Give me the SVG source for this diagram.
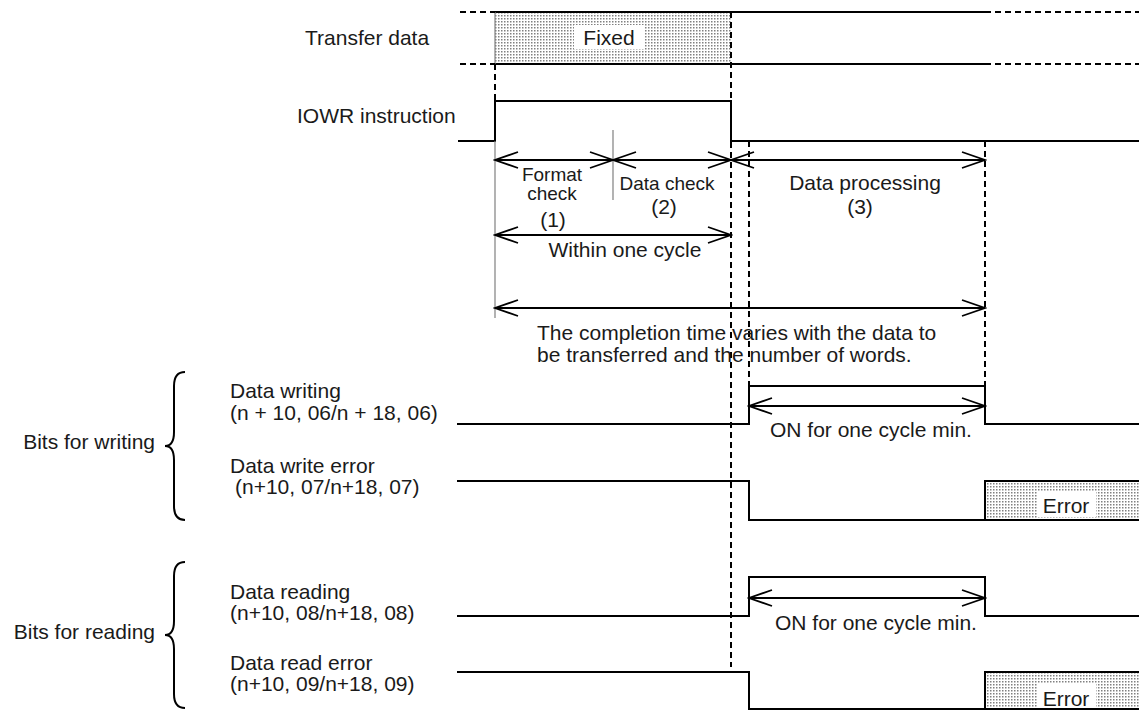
<svg xmlns="http://www.w3.org/2000/svg" width="1139" height="710" viewBox="0 0 1139 710">
<style>
text{font-family:"Liberation Sans",Arial,sans-serif;font-size:21px;fill:#1a1a1a}
.s{font-size:19px}
.m{text-anchor:middle}
.e{text-anchor:end}
.sig{fill:none;stroke:#000;stroke-width:2}
.dash{fill:none;stroke:#000;stroke-width:2;stroke-dasharray:6 4}
.thin{fill:none;stroke:#808080;stroke-width:1.2}
.arr{fill:none;stroke:#000;stroke-width:2;marker-start:url(#ah);marker-end:url(#ah)}
.hatch{fill:url(#dots);stroke:none}
.bg{fill:#fff}
.brace{fill:none;stroke:#000;stroke-width:2}
</style>
<defs>
<pattern id="dots" width="3" height="3" patternUnits="userSpaceOnUse"><rect width="3" height="3" fill="#fff"/><rect width="1.5" height="1.5" fill="#808080"/></pattern>
<marker id="ah" markerUnits="userSpaceOnUse" markerWidth="26" markerHeight="20" refX="24" refY="10" orient="auto-start-reverse" viewBox="0 0 26 20"><path d="M1,2 L24,10 L1,18" fill="none" stroke="#000" stroke-width="1.8"/></marker>
</defs>

<g id="transfer-data">
<rect class="hatch" x="495" y="12" width="236" height="52"/>
<rect class="bg" x="574" y="25" width="70" height="24"/>
<path class="sig" d="M495,12 H985 M495,64 H985"/>
<path class="thin" d="M495,12 V64"/>
<path class="dash" d="M460,12 H495 M460,64 H495 M985,12 H1139 M985,64 H1139"/>
<text x="305" y="45">Transfer data</text>
<text class="m" x="609" y="45">Fixed</text>
</g>

<g id="iowr">
<path class="sig" d="M458,141 H495 V101 H731 V141 H1139"/>
<text x="297" y="123">IOWR instruction</text>
</g>

<g id="data-writing">
<path class="sig" d="M457,424 H749 V386 H985 V424 H1139"/>
<text x="230" y="398">Data writing</text>
<text x="230" y="420">(n + 10, 06/n + 18, 06)</text>
</g>

<g id="data-write-error">
<rect class="hatch" x="985" y="481" width="154" height="39"/>
<rect class="bg" x="1038" y="492" width="58" height="25"/>
<path class="sig" d="M457,481 H749 V520 H1139 M985,520 V481 H1139"/>
<text x="230" y="473">Data write error</text>
<text x="235" y="494">(n+10, 07/n+18, 07)</text>
<text class="m" x="1066" y="513">Error</text>
</g>

<g id="bits-for-writing">
<path class="brace" d="M185,372 Q174,372 174,386 L174,432 Q174,446 165,446 Q174,446 174,460 L174,506 Q174,520 185,520"/>
<text class="e" x="155" y="449">Bits for writing</text>
</g>

<g id="data-reading">
<path class="sig" d="M457,616 H749 V577 H985 V616 H1139"/>
<text x="230" y="599">Data reading</text>
<text x="230" y="620">(n+10, 08/n+18, 08)</text>
</g>

<g id="data-read-error">
<rect class="hatch" x="985" y="672" width="154" height="40"/>
<rect class="bg" x="1038" y="684" width="58" height="26"/>
<path class="sig" d="M457,672 H749 V709 H1139 M985,710 V672 H1139"/>
<text x="230" y="670">Data read error</text>
<text x="230" y="691">(n+10, 09/n+18, 09)</text>
<text class="m" x="1066" y="706">Error</text>
</g>

<g id="bits-for-reading">
<path class="brace" d="M185,562 Q174,562 174,576 L174,621 Q174,635 165,635 Q174,635 174,649 L174,694 Q174,708 185,708"/>
<text class="e" x="155" y="639">Bits for reading</text>
</g>

<g id="guides">
<path class="dash" d="M731,12 V667 M495,64 V101 M749,141 V386 M985,141 V386"/>
<path class="thin" d="M495,141 V318 M613,130 V200"/>
</g>

<g id="connectors">
<path class="arr" d="M495,160 H613"/>
<path class="arr" d="M613,160 H731"/>
<path class="arr" d="M731,160 H985"/>
<path class="arr" d="M495,235 H731"/>
<path class="arr" d="M495,308 H985"/>
<path class="arr" d="M749,406 H985"/>
<path class="arr" d="M749,598 H985"/>
</g>

<g id="labels">
<text class="s m" x="552" y="181">Format</text>
<text class="s m" x="552" y="200">check</text>
<text class="m" x="553" y="227">(1)</text>
<text class="s m" x="667" y="190">Data check</text>
<text class="m" x="664" y="214">(2)</text>
<text class="m" x="865" y="190">Data processing</text>
<text class="m" x="860" y="214">(3)</text>
<text class="m" x="625" y="257">Within one cycle</text>
<text x="537" y="340">The completion time varies with the data to</text>
<text x="537" y="362">be transferred and the number of words.</text>
<text x="770" y="437">ON for one cycle min.</text>
<text x="775" y="630">ON for one cycle min.</text>
</g>
</svg>
